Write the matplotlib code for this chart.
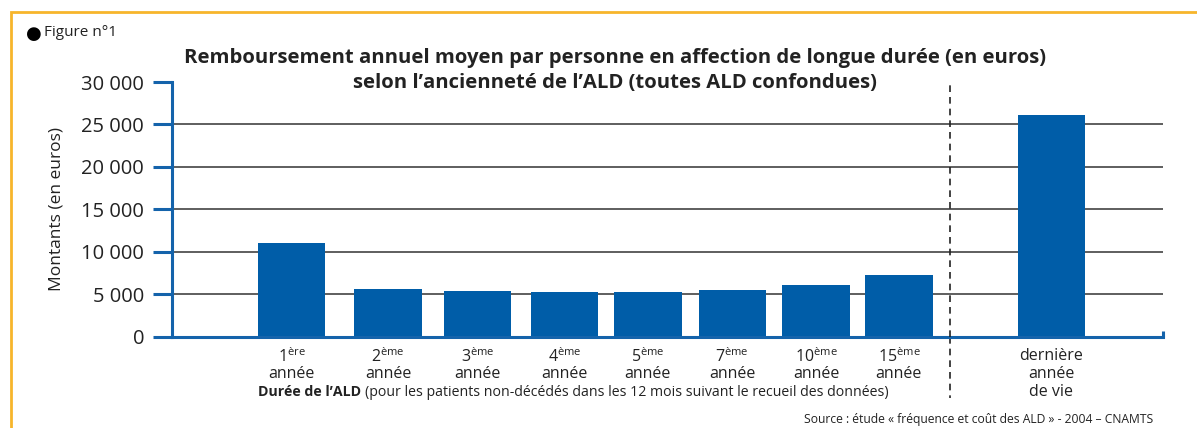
import numpy as np
import matplotlib
matplotlib.use('Agg')
import matplotlib.pyplot as plt
from matplotlib.patches import Rectangle

plt.rcParams['font.family'] = ['Open Sans', 'DejaVu Sans']
plt.rcParams['mathtext.fontset'] = 'custom'
plt.rcParams['mathtext.rm'] = 'Open Sans'
plt.rcParams['mathtext.it'] = 'Open Sans:italic'
plt.rcParams['mathtext.bf'] = 'Open Sans:bold'

# Data
ranks = ['1', '2', '3', '4', '5', '7', '10', '15']
suffixes = ['ère', 'ème', 'ème', 'ème', 'ème', 'ème', 'ème', 'ème']
montants = [11000, 5550, 5400, 5200, 5200, 5500, 6050, 7250]
derniere_label = 'dernière\nannée\nde vie'
derniere_montant = 26100
yticks = [0, 5000, 10000, 15000, 20000, 25000, 30000]
ytick_labels = ['0', '5 000', '10 000', '15 000', '20 000', '25 000', '30 000']

# slot layout along the x axis (in bar-spacing units)
x_pos = [0, 1.133, 2.183, 3.204, 4.183, 5.174, 6.156, 7.13]
x_derniere = 8.92
x_sep = 7.73

blue = '#005da8'
axis_blue = '#1463ab'

W, H = 1197, 428
fig = plt.figure(figsize=(W / 100, H / 100), dpi=100)

# orange frame
fig.patches.append(Rectangle((11 / W, -0.1), 1.2, (H - 12) / H + 0.1,
                             transform=fig.transFigure, fill=False,
                             edgecolor='#f7b52b', linewidth=2))

ax = fig.add_axes([172 / W, (H - 336.5) / H, (1163 - 172) / W, (336.5 - 82) / H])
ax.set_xlim(-1.403, 10.23)
ax.set_ylim(0, 30000)

for y in yticks[1:-1]:
    ax.axhline(y, color='#333333', linewidth=1.1, zorder=1)

labels = [r'%s$^{\mathrm{%s}}$' % (r, s) + '\nannée' for r, s in zip(ranks, suffixes)]
ax.bar(x_pos, montants, width=0.79, color=blue, zorder=2)
ax.bar([x_derniere], [derniere_montant], width=0.79, color=blue, zorder=2)

ax.set_xticks(x_pos + [x_derniere])
ax.set_xticklabels(labels + [derniere_label], fontsize=11.5, color='#222222',
                   linespacing=0.95, va='top')
ax.get_xticklabels()[-1].set_linespacing(1.2)
ax.tick_params(axis='x', length=0, pad=8)

ax.set_yticks(yticks)
ax.set_yticklabels(ytick_labels, fontsize=14.5, color='#222222')
ax.tick_params(axis='y', length=14, width=2.2, color=axis_blue, pad=6)

for side in ['top', 'right']:
    ax.spines[side].set_visible(False)
for side in ['left', 'bottom']:
    ax.spines[side].set_color(axis_blue)
    ax.spines[side].set_linewidth(2.2)

# small upward stub at the right end of the x axis
ax.plot([10.23, 10.23], [0, 700], color=axis_blue, linewidth=2.2,
        clip_on=False, solid_capstyle='butt')

# dashed separator
ax.plot([x_sep, x_sep], [0, 30000], color='#222222', linewidth=1.2,
        linestyle=(0, (4, 3)), zorder=3)
ax.plot([x_sep, x_sep], [0, -7300], color='#222222', linewidth=1.2,
        linestyle=(0, (4, 3)), clip_on=False)

ax.set_ylabel('Montants (en euros)', fontsize=12.5, color='#222222', labelpad=12)

fig.text(44 / W, 1 - 33 / H, 'Figure n°1', fontsize=11, color='#222222',
         va='center', ha='left')
fig.text(34 / W, 1 - 34 / H, '●', fontsize=13, color='black', va='center',
         ha='center', family='DejaVu Sans')

fig.text(615 / W, 1 - 58 / H,
         'Remboursement annuel moyen par personne en affection de longue durée (en euros)',
         fontsize=14.6, fontweight='bold', ha='center', va='center', color='#222222')
fig.text(615 / W, 1 - 83 / H,
         'selon l\u2019ancienneté de l\u2019ALD (toutes ALD confondues)',
         fontsize=14.6, fontweight='bold', ha='center', va='center', color='#222222')

t = fig.text(258 / W, 1 - 392 / H, 'Durée de l\u2019ALD ', fontsize=10.2,
             fontweight='bold', ha='left', va='center', color='#222222')
fig.canvas.draw()
bb = t.get_window_extent()
fig.text(bb.x1 / W, 1 - 392 / H,
         '(pour les patients non-décédés dans les 12 mois suivant le recueil des données)',
         fontsize=10.2, ha='left', va='center', color='#222222')

fig.text(1153 / W, 1 - 420 / H,
         'Source : étude « fréquence et coût des ALD » - 2004 \u2013 CNAMTS',
         fontsize=8.7, ha='right', va='center', color='#222222')

fig.savefig('out.png', dpi=100)
